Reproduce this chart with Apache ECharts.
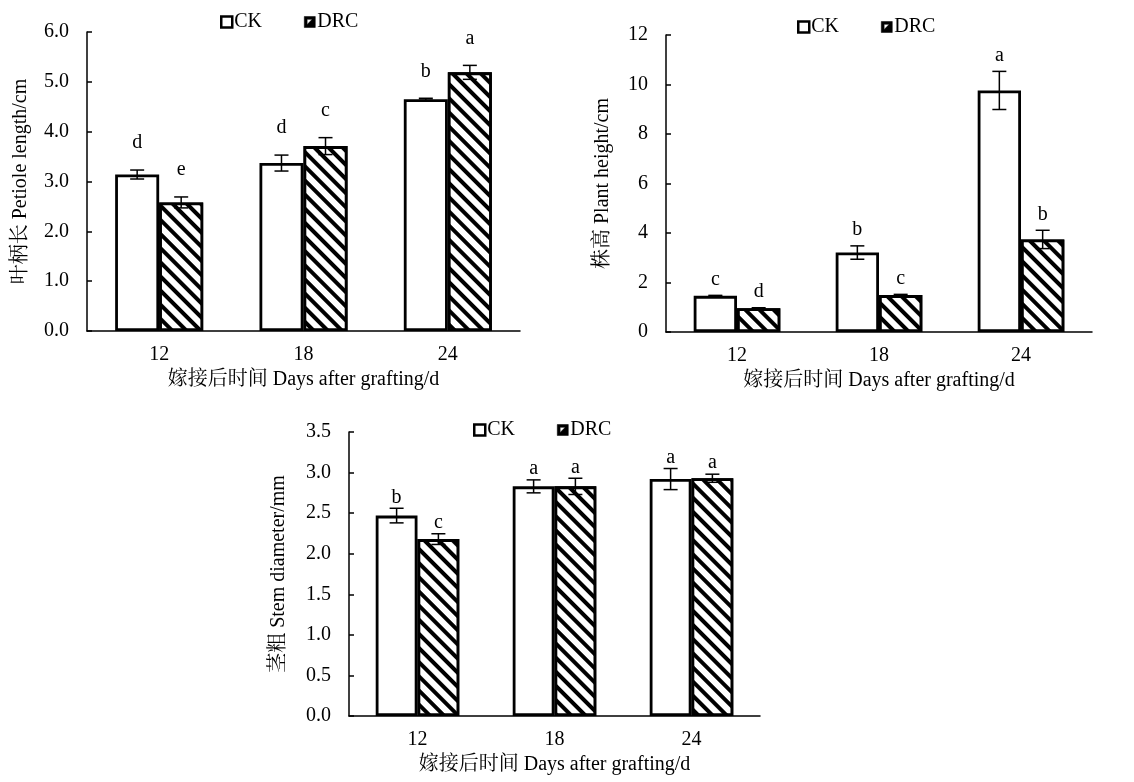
<!DOCTYPE html>
<html>
<head>
<meta charset="utf-8">
<script src="https://cdn.jsdelivr.net/npm/echarts@6/dist/echarts.min.js"></script>
<style>
html,body{margin:0;padding:0;background:#fff;}
#c{width:1134px;height:782px;}
</style>
</head>
<body>
<div id="c"></div>
<script>
const categories = ['12', '18', '24'];
const seriesNames = ['CK', 'DRC'];

const petioleCK = [3.14, 3.37, 4.65];
const petioleCKErr = [0.09, 0.16, 0.02];
const petioleCKLetters = ['d', 'd', 'b'];
const petioleDRC = [2.58, 3.71, 5.19];
const petioleDRCErr = [0.11, 0.17, 0.14];
const petioleDRCLetters = ['e', 'c', 'a'];

const heightCK = [1.46, 3.21, 9.76];
const heightCKErr = [0.02, 0.27, 0.77];
const heightCKLetters = ['c', 'b', 'a'];
const heightDRC = [0.96, 1.49, 3.74];
const heightDRCErr = [0.02, 0.03, 0.37];
const heightDRCLetters = ['d', 'c', 'b'];

const stemCK = [2.47, 2.83, 2.92];
const stemCKErr = [0.09, 0.08, 0.13];
const stemCKLetters = ['b', 'a', 'a'];
const stemDRC = [2.18, 2.83, 2.93];
const stemDRCErr = [0.066, 0.10, 0.05];
const stemDRCLetters = ['c', 'a', 'a'];

const xName = '嫁接后时间 Days after grafting/d';
const yNames = ['叶柄长 Petiole length/cm', '株高 Plant height/cm', '茎粗 Stem diameter/mm'];

const FONT = "'Liberation Serif', 'Times New Roman', 'Noto Serif CJK SC', 'Noto Sans CJK SC', serif";
const FS = 20;
const GAP = 0.39;

const hatch = {
  symbol: 'rect', symbolSize: 1,
  dashArrayX: [1, 0], dashArrayY: [4, 6],
  rotation: Math.PI / 4,
  color: '#000', backgroundColor: '#fff'
};
const ckStyle = { color: '#fff', borderColor: '#000', borderWidth: 2.8 };
const drcStyle = { color: '#fff', borderColor: '#000', borderWidth: 2.8, decal: hatch };

const panels = [
  { grid: { left: 87, top: 32, width: 433, height: 299 }, y: { max: 6, interval: 1, fmt: v => v.toFixed(1) }, nameGap: 56,
    ck: [petioleCK, petioleCKErr, petioleCKLetters], drc: [petioleDRC, petioleDRCErr, petioleDRCLetters],
    legend: { left: 215, top: 7 }, off: 27 },
  { grid: { left: 666, top: 35, width: 426, height: 297 }, y: { max: 12, interval: 2, fmt: v => String(v) }, nameGap: 53,
    ck: [heightCK, heightCKErr, heightCKLetters], drc: [heightDRC, heightDRCErr, heightDRCLetters],
    legend: { left: 792, top: 12 }, off: 16 },
  { grid: { left: 349, top: 432, width: 411, height: 284 }, y: { max: 3.5, interval: 0.5, fmt: v => v.toFixed(1) }, nameGap: 60,
    ck: [stemCK, stemCKErr, stemCKLetters], drc: [stemDRC, stemDRCErr, stemDRCLetters],
    legend: { left: 468, top: 415 }, off: 11 }
];

function errSeries(idx, side, vals, errs, letters, off) {
  return {
    type: 'custom', xAxisIndex: idx, yAxisIndex: idx, z: 10, silent: true,
    data: vals.map((v, i) => [i, v, errs[i]]),
    renderItem: function (params, api) {
      const i = api.value(0), v = api.value(1), e = api.value(2);
      const catW = api.size([1, 0])[0];
      const bw = catW * (1 - GAP) / 2;
      const c = api.coord([i, v]);
      const x = c[0] + side * bw / 2;
      const yt = api.coord([i, v + e])[1];
      const yb = api.coord([i, v - e])[1];
      const cap = 7;
      const ls = { stroke: '#000', lineWidth: 1.5 };
      return {
        type: 'group',
        children: [
          { type: 'line', shape: { x1: x, y1: yt, x2: x, y2: yb }, style: ls },
          { type: 'line', shape: { x1: x - cap, y1: yt, x2: x + cap, y2: yt }, style: ls },
          { type: 'line', shape: { x1: x - cap, y1: yb, x2: x + cap, y2: yb }, style: ls },
          { type: 'text', style: { text: letters[params.dataIndex], x: x, y: yt - off, align: 'center', verticalAlign: 'middle',
              font: FS + 'px ' + FONT, fill: '#000' } }
        ]
      };
    }
  };
}

const drcIcon = 'path://M0,0L10,0L10,10L0,10Z M2.6,2.6L2.6,7.2L7.2,2.6Z';

const option = {
  animation: false,
  backgroundColor: '#fff',
  textStyle: { fontFamily: FONT, color: '#000' },
  grid: panels.map(p => Object.assign({ containLabel: false }, p.grid)),
  legend: panels.map(p => ({
    left: p.legend.left, top: p.legend.top, itemWidth: 11, itemHeight: 11, itemGap: 42,
    textStyle: { fontFamily: FONT, fontSize: FS, color: '#000', padding: [0, 0, 0, -3] },
    data: [
      { name: 'CK', icon: 'rect', itemStyle: { color: '#fff', borderColor: '#000', borderWidth: 2.5, decal: 'none' } },
      { name: 'DRC', icon: drcIcon, itemStyle: { color: '#000', borderColor: '#000', borderWidth: 0.5, decal: 'none' } }
    ],
    selectedMode: false
  })),
  xAxis: panels.map((p, k) => ({
    type: 'category', gridIndex: k, data: categories,
    name: xName, nameLocation: 'middle', nameGap: 39,
    nameTextStyle: { fontFamily: FONT, fontSize: FS, color: '#000' },
    axisLine: { lineStyle: { color: '#000', width: 1.5 } },
    axisTick: { inside: true, length: 5, lineStyle: { color: '#000', width: 1.5 } },
    axisLabel: { fontFamily: FONT, fontSize: FS, color: '#000', margin: 14 },
    splitLine: { show: false }
  })),
  yAxis: panels.map((p, k) => ({
    type: 'value', gridIndex: k, min: 0, max: p.y.max, interval: p.y.interval,
    name: yNames[k], nameLocation: 'middle', nameGap: p.nameGap, nameRotate: 90,
    nameTextStyle: { fontFamily: FONT, fontSize: FS, color: '#000' },
    axisLine: { show: true, lineStyle: { color: '#000', width: 1.5 } },
    axisTick: { show: true, inside: true, length: 5, lineStyle: { color: '#000', width: 1.5 } },
    axisLabel: { fontFamily: FONT, fontSize: FS, color: '#000', margin: 18, formatter: p.y.fmt },
    splitLine: { show: false }
  })),
  series: []
};

panels.forEach((p, k) => {
  option.series.push({
    name: 'CK', type: 'bar', xAxisIndex: k, yAxisIndex: k, data: p.ck[0],
    barGap: '0%', barCategoryGap: (GAP * 100) + '%', itemStyle: ckStyle
  });
  option.series.push({
    name: 'DRC', type: 'bar', xAxisIndex: k, yAxisIndex: k, data: p.drc[0],
    barGap: '0%', barCategoryGap: (GAP * 100) + '%', itemStyle: drcStyle
  });
  option.series.push(errSeries(k, -1, p.ck[0], p.ck[1], p.ck[2], p.off));
  option.series.push(errSeries(k, 1, p.drc[0], p.drc[1], p.drc[2], p.off));
});

const chart = echarts.init(document.getElementById('c'), null, { renderer: 'canvas' });
chart.setOption(option);
</script>
</body>
</html>
